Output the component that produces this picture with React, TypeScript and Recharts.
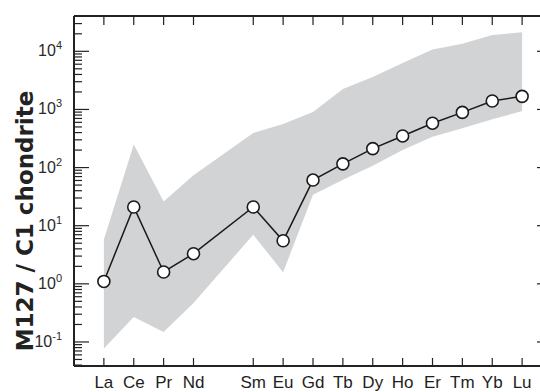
import {
  ComposedChart,
  Area,
  Line,
  XAxis,
  YAxis,
} from "recharts";

// REE pattern, chondrite-normalised (Pm left empty)
const elements = ["La", "Ce", "Pr", "Nd", "Pm", "Sm", "Eu", "Gd", "Tb", "Dy", "Ho", "Er", "Tm", "Yb", "Lu"];
const m127 = [1.1, 21, 1.6, 3.3, null, 21, 5.5, 61, 116, 212, 350, 580, 890, 1400, 1680];
const bandUpper = [5.8, 250, 26, 74, null, 395, 560, 900, 2250, 3600, 6300, 10700, 13500, 19000, 21300];
const bandLower = [0.077, 0.27, 0.148, 0.47, null, 7.0, 1.58, 34, 62, 107, 200, 340, 475, 675, 940];

const majorTicks = [0.1, 1, 10, 100, 1000, 10000];
const majorExponents = ["-1", "0", "1", "2", "3", "4"];
const minorSteps = [2, 3, 4, 5, 6, 7, 8, 9];

const data = elements.map((el, i) => ({
  pos: i + 1,
  el,
  m127: m127[i],
  band: bandLower[i] == null ? null : [bandLower[i], bandUpper[i]],
}));

const xTicks = data.filter((d) => d.m127 != null).map((d) => d.pos);
const minorTicks = [0.01, ...majorTicks]
  .flatMap((d) => minorSteps.map((s) => d * s))
  .filter((v) => v > 0.0386 && v < 40500);
const yTicks = [...majorTicks, ...minorTicks];

const INK = "#222";
const LABEL_FONT = "'Liberation Sans', Arial, sans-serif";

const LeftTick = (props: any) => {
  const { x, y, payload } = props;
  const idx = majorTicks.indexOf(payload.value);
  const major = idx >= 0;
  return (
    <g>
      <line x1={x} x2={x + (major ? 15 : 8)} y1={y} y2={y} stroke={INK} strokeWidth={1.2} />
      {major && (
        <text x={x - 12} y={y + 5} textAnchor="end" fontFamily={LABEL_FONT} fontSize={16} fill="#2a2a2a">
          <tspan>10</tspan>
          <tspan dy={-7} fontSize={11}>{majorExponents[idx]}</tspan>
        </text>
      )}
    </g>
  );
};

const RightTick = (props: any) => {
  const { x, y } = props;
  return <line x1={x} x2={x - 15} y1={y} y2={y} stroke={INK} strokeWidth={1.2} />;
};

const BottomTick = (props: any) => {
  const { x, y, payload } = props;
  const label = elements[payload.value - 1];
  return (
    <g>
      <line x1={x} x2={x} y1={y} y2={y - 8} stroke={INK} strokeWidth={1.2} />
      <text x={x} y={y + 22} textAnchor="middle" fontFamily={LABEL_FONT} fontSize={17} fill="#1e1e1e">
        {label}
      </text>
    </g>
  );
};

const TopTick = (props: any) => {
  const { x, y } = props;
  return <line x1={x} x2={x} y1={y} y2={y + 9} stroke={INK} strokeWidth={1.2} />;
};

const YLabel = () => (
  <text
    x={33}
    y={221}
    transform="rotate(-90, 33, 221)"
    textAnchor="middle"
    fontFamily="'DejaVu Sans', sans-serif"
    fontWeight="bold"
    fontSize={23}
    fill="#222"
  >
    M127 / C1 chondrite
  </text>
);

export default function App() {
  return (
    <div style={{ width: 540, height: 392, overflow: "hidden", position: "relative" }}>
      <style>{"body{margin:0}"}</style>
      <ComposedChart
        width={560}
        height={392}
        data={data}
        margin={{ top: 15, right: 0, bottom: 0, left: 0 }}
      >
        <XAxis
          xAxisId="bottom"
          dataKey="pos"
          type="number"
          domain={[0, 16]}
          ticks={xTicks}
          interval={0}
          height={26}
          tickSize={0}
          tickMargin={0}
          tickLine={false}
          tick={<BottomTick />}
          axisLine={{ stroke: INK, strokeWidth: 2 }}
        />
        <XAxis
          xAxisId="top"
          orientation="top"
          dataKey="pos"
          type="number"
          domain={[0, 16]}
          ticks={xTicks}
          interval={0}
          height={1}
          tickSize={0}
          tickMargin={0}
          tickLine={false}
          tick={<TopTick />}
          axisLine={{ stroke: INK, strokeWidth: 2 }}
        />
        <YAxis
          yAxisId="left"
          scale="log"
          domain={[0.0386, 40500]}
          allowDataOverflow
          ticks={yTicks}
          interval={0}
          width={74}
          tickSize={0}
          tickMargin={0}
          tickLine={false}
          tick={<LeftTick />}
          axisLine={{ stroke: INK, strokeWidth: 2 }}
          label={<YLabel />}
        />
        <YAxis
          yAxisId="right"
          orientation="right"
          scale="log"
          domain={[0.0386, 40500]}
          allowDataOverflow
          ticks={majorTicks}
          interval={0}
          width={8}
          tickSize={0}
          tickMargin={0}
          tickLine={false}
          tick={<RightTick />}
          axisLine={{ stroke: INK, strokeWidth: 2 }}
        />
        <Area
          xAxisId="bottom"
          yAxisId="left"
          dataKey="band"
          type="linear"
          stroke="none"
          fill="#d2d3d5"
          fillOpacity={1}
          connectNulls
          isAnimationActive={false}
        />
        <Line
          xAxisId="bottom"
          yAxisId="left"
          dataKey="m127"
          type="linear"
          stroke="#1a1a1a"
          strokeWidth={1.5}
          connectNulls
          dot={{ r: 6, fill: "#fff", stroke: "#1a1a1a", strokeWidth: 1.6 }}
          isAnimationActive={false}
        />
      </ComposedChart>
    </div>
  );
}
